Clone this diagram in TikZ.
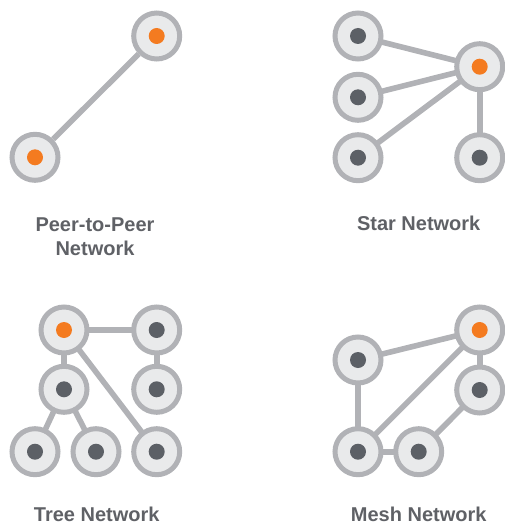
\documentclass[tikz,border=0pt]{standalone}
\usepackage{fontspec}
\setmainfont{Liberation Sans}
\usepackage{tikz}
\usetikzlibrary{backgrounds}
\definecolor{ringgray}{RGB}{177,178,182}
\definecolor{padgray}{RGB}{233,234,235}
\definecolor{dotgray}{RGB}{92,96,102}
\definecolor{hotorange}{RGB}{244,123,32}
\definecolor{labelgray}{RGB}{95,97,102}

\begin{document}
\begin{tikzpicture}[x=0.5pt,y=-0.5pt,
  station/.style={draw=ringgray,fill=padgray,circle,line width=2.5pt,minimum size=23pt,inner sep=0pt},
  hub/.style={station,path picture={\fill[hotorange] (path picture bounding box.center) circle (4pt);}},
  host/.style={station,path picture={\fill[dotgray] (path picture bounding box.center) circle (4pt);}},
  link/.style={draw=ringgray,line width=2.8pt},
  caption/.style={text=labelgray,font=\bfseries,align=center}]
\useasboundingbox (0,0) rectangle (504,524);

% peer-to-peer
\node[hub] (pa) at (156.7,36) {};
\node[hub] (pb) at (35,157.3) {};
\node[caption] (plabel) at (95,236.5) {Peer-to-Peer\\Network};

% star
\node[hub] (sc) at (479.7,66.7) {};
\node[host] (s1) at (358,36) {};
\node[host] (s2) at (358,97.3) {};
\node[host] (s3) at (358,157.7) {};
\node[host] (s4) at (479.7,157.7) {};
\node[caption] (slabel) at (418.7,223) {Star Network};

% tree
\node[hub] (t0) at (64,330) {};
\node[host] (t1) at (156.7,330) {};
\node[host] (t2) at (64,389.3) {};
\node[host] (t3) at (156.7,389.3) {};
\node[host] (t4) at (35,451.7) {};
\node[host] (t5) at (96,451.7) {};
\node[host] (t6) at (156.7,451.7) {};
\node[caption] (tlabel) at (96.7,514.5) {Tree Network};

% mesh
\node[hub] (m0) at (479.7,330) {};
\node[host] (m1) at (358,360) {};
\node[host] (m2) at (479.7,390) {};
\node[host] (m3) at (358,451.7) {};
\node[host] (m4) at (418.7,451.7) {};
\node[caption] (mlabel) at (418.7,514.5) {Mesh Network};

\begin{scope}[on background layer]
\draw[link] (pa) -- (pb);
\foreach \n in {s1,s2,s3,s4} \draw[link] (sc.center) -- (\n.center);
\draw[link] (t0.center) -- (t1.center);
\draw[link] (t0.center) -- (t2.center);
\draw[link] (t0.center) -- (t6.center);
\draw[link] (t1.center) -- (t3.center);
\draw[link] (t2.center) -- (t4.center);
\draw[link] (t2.center) -- (t5.center);
\draw[link] (m0.center) -- (m1.center);
\draw[link] (m0.center) -- (m2.center);
\draw[link] (m0.center) -- (m3.center);
\draw[link] (m1.center) -- (m3.center);
\draw[link] (m3.center) -- (m4.center);
\draw[link] (m4.center) -- (m2.center);
\end{scope}
\end{tikzpicture}
\end{document}
